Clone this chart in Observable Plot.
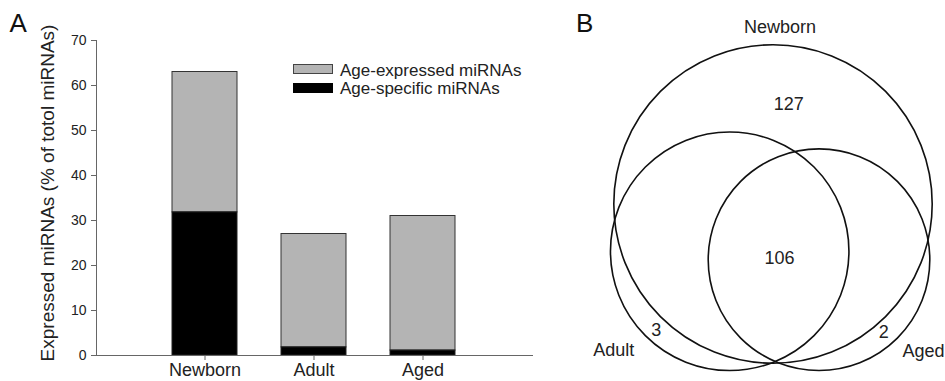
<!DOCTYPE html>
<html><head><meta charset="utf-8">
<script src="https://cdn.jsdelivr.net/npm/d3@7"></script>
<script src="https://cdn.jsdelivr.net/npm/@observablehq/plot@0.6"></script>
<style>
body{margin:0;background:#fff;}
#wrap{position:relative;width:945px;height:381px;overflow:hidden;font-family:"Liberation Sans",Arial,sans-serif;}
#bar{position:absolute;left:0;top:0;}
#venn{position:absolute;left:545px;top:0;}
.sw{position:absolute;left:293px;width:40px;height:10px;box-sizing:border-box;}
.lt{position:absolute;left:340px;font-size:17px;line-height:17px;color:#222;white-space:nowrap;}
</style>
</head><body>
<div id="wrap"><div id="bar"></div><div id="venn"></div><div id="legend"></div></div>
<script>
// ---- Panel A data ----
const ages = ["Newborn", "Adult", "Aged"];
const expressedPct = [63, 27, 31];      // Age-expressed miRNAs (% of total)
const specificPct = [31.8, 1.8, 1.1];   // Age-specific miRNAs (% of total)
const yTicks = [0, 10, 20, 30, 40, 50, 60, 70];
const seriesNames = ["Age-expressed miRNAs", "Age-specific miRNAs"];
const yLabel = "Expressed miRNAs (% of totol miRNAs)";

// ---- Panel B data ----
const vennSets = ["Newborn", "Adult", "Aged"];
const vennCounts = [127, 106, 3, 2];
// Venn layout (units of the Newborn circle radius)
const vennCircles = [
  {set: "Newborn", u: 0, v: 0, r: 1},
  {set: "Adult", u: -0.272, v: -0.297, r: 0.749},
  {set: "Aged", u: 0.289, v: -0.350, r: 0.696}
];
const vennLabels = [
  {text: vennSets[0], u: 0.044, v: 1.113},
  {text: vennSets[1], u: -1.000, v: -0.916},
  {text: vennSets[2], u: 0.945, v: -0.926},
  {text: String(vennCounts[0]), u: 0.099, v: 0.625},
  {text: String(vennCounts[1]), u: 0.041, v: -0.342},
  {text: String(vennCounts[2]), u: -0.734, v: -0.795},
  {text: String(vennCounts[3]), u: 0.696, v: -0.805}
];

const rows = ages.map((a, i) => ({age: a, expressed: expressedPct[i], specific: specificPct[i]}));
const font = '"Liberation Sans", Arial, sans-serif';

const bar = Plot.plot({
  width: 545, height: 381,
  marginLeft: 96, marginRight: 13, marginTop: 40, marginBottom: 26,
  style: {fontFamily: font, color: "#222", background: "#fff"},
  x: {type: "band", domain: ages, paddingInner: 0.4, paddingOuter: 0.7, label: null},
  y: {domain: [0, 70], label: null},
  marks: [
    Plot.barY(rows, {x: "age", y1: "specific", y2: "expressed", fill: "#b4b4b4", stroke: "#333", strokeWidth: 1}),
    Plot.barY(rows, {x: "age", y: "specific", fill: "#000", stroke: "#222", strokeWidth: 1}),
    Plot.axisY({ticks: yTicks, tickSize: 5, tickPadding: 5, fontSize: 14, stroke: "#666", label: null}),
    Plot.axisX({tickSize: 5, tickPadding: 3, fontSize: 18, stroke: "#666", label: null}),
    Plot.frame({anchor: "left", stroke: "#666"}),
    Plot.frame({anchor: "bottom", stroke: "#666"}),
    Plot.text([yLabel], {text: d => d, frameAnchor: "left", textAnchor: "middle", lineAnchor: "middle", rotate: -90, dx: -49, dy: -5, fontSize: 19, fill: "#222"}),
    Plot.text(["A"], {text: d => d, frameAnchor: "top-left", textAnchor: "start", lineAnchor: "middle", dx: -87, dy: -16.5, fontSize: 26, fill: "#111"})
  ]
});
document.getElementById("bar").appendChild(bar);

const S = 159.2; // px per venn unit
const venn = Plot.plot({
  width: 400, height: 381,
  marginLeft: 0, marginRight: 0, marginTop: 0, marginBottom: 0,
  style: {fontFamily: font, color: "#222", background: "transparent"},
  x: {domain: [-227.5 / S, 172.5 / S], axis: null},
  y: {domain: [-177.5 / S, 203.5 / S], axis: null},
  r: {type: "linear", domain: [0, 1], range: [0, S]},
  marks: [
    Plot.dot(vennCircles, {x: "u", y: "v", r: "r", fill: "none", stroke: "#111", strokeWidth: 1.6}),
    Plot.text(vennLabels, {x: "u", y: "v", text: "text", fontSize: 18, fill: "#222"}),
    Plot.text(["B"], {text: d => d, frameAnchor: "top-left", textAnchor: "start", lineAnchor: "middle", dx: 30.5, dy: 23, fontSize: 26, fill: "#111"})
  ]
});
document.getElementById("venn").appendChild(venn);

// legend (HTML, over panel A)
const leg = document.getElementById("legend");
const swFill = ["#b4b4b4", "#000"];
const swTop = [64, 83];
const txtTop = [61.6, 79.6];
seriesNames.forEach((name, i) => {
  const s = document.createElement("div");
  s.className = "sw";
  s.style.top = swTop[i] + "px";
  s.style.background = swFill[i];
  s.style.border = "1px solid " + (i === 0 ? "#444" : "#000");
  leg.appendChild(s);
  const t = document.createElement("div");
  t.className = "lt";
  t.style.top = txtTop[i] + "px";
  t.textContent = name;
  leg.appendChild(t);
});
</script>
</body></html>
